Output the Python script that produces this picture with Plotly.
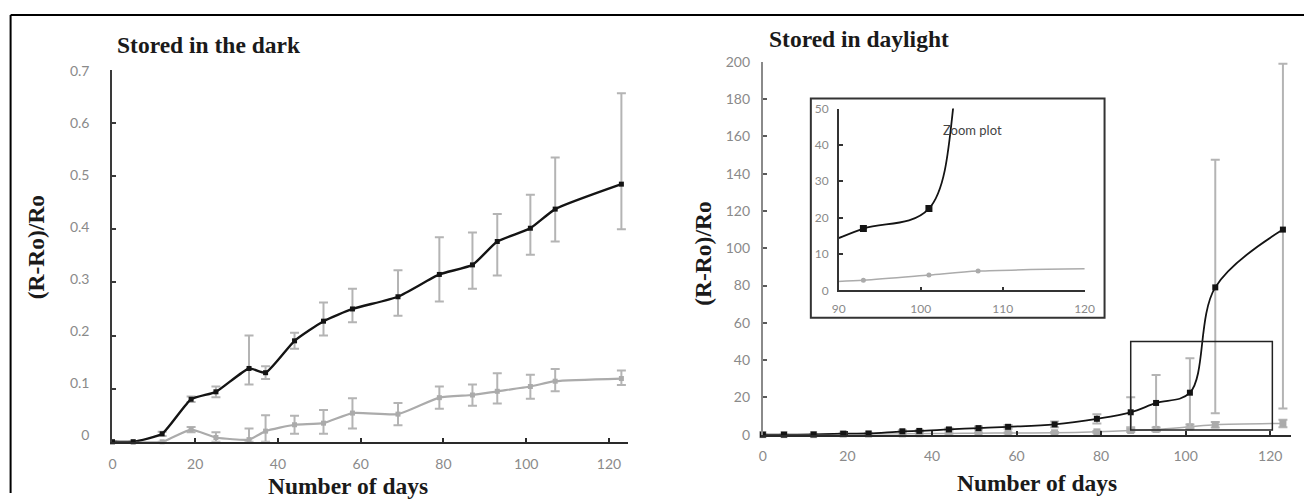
import plotly.graph_objects as go

W, H = 1314, 501

# measured mapping of the page into the photographed picture
SX, AX = 0.988, 6.4
SY, AY = 0.951, 9.0

# ---------------- data ----------------
days = [0, 5, 12, 19, 25, 33, 37, 44, 51, 58, 69, 79, 87, 93, 101, 107, 123]

dark_black = [0, 0, 0.015, 0.08, 0.094, 0.138, 0.13, 0.19, 0.227, 0.25, 0.273, 0.315, 0.333, 0.377, 0.402, 0.438, 0.485]
dark_black_err_plus = [0, 0, 0.004, 0.005, 0.01, 0.062, 0.012, 0.015, 0.035, 0.038, 0.05, 0.07, 0.061, 0.052, 0.063, 0.097, 0.171]
dark_black_err_minus = [0, 0, 0.004, 0.005, 0.01, 0.03, 0.012, 0.015, 0.027, 0.025, 0.036, 0.051, 0.045, 0.064, 0.05, 0.061, 0.085]

dark_gray = [0, 0, 0, 0.023, 0.008, 0.004, 0.02, 0.032, 0.035, 0.054, 0.052, 0.083, 0.088, 0.095, 0.104, 0.114, 0.119]
dark_gray_err_plus = [0, 0, 0, 0.005, 0.01, 0.021, 0.03, 0.017, 0.025, 0.028, 0.021, 0.021, 0.02, 0.034, 0.022, 0.023, 0.015]
dark_gray_err_minus = [0, 0, 0, 0.005, 0.008, 0.004, 0.02, 0.017, 0.02, 0.029, 0.021, 0.021, 0.02, 0.023, 0.023, 0.019, 0.012]

light_black = [0, 0, 0.1, 0.5, 0.6, 1.8, 2.0, 2.8, 3.5, 4.2, 5.5, 8.5, 12, 17, 22.5, 79, 110]
light_black_err_plus = [0, 0, 0, 0.2, 0.2, 0.5, 0.5, 0.6, 0.8, 1, 1.5, 2.5, 8, 15, 18.5, 68.5, 89]
light_black_err_minus = [0, 0, 0, 0.2, 0.2, 0.5, 0.5, 0.6, 0.8, 1, 1.5, 2.5, 8, 15, 18.5, 67.5, 96]

light_gray = [0, 0, 0, 0.3, 0.3, 0.4, 0.5, 0.6, 0.8, 0.9, 1.0, 1.5, 2.2, 2.8, 4.2, 5.3, 6.0]
light_gray_err = [0, 0, 0, 0.1, 0.1, 0.1, 0.2, 0.2, 0.3, 0.3, 0.4, 0.5, 0.8, 1.0, 1.2, 1.5, 2.0]

x_ticks = [0, 20, 40, 60, 80, 100, 120]
dark_y_ticks = [0, 0.1, 0.2, 0.3, 0.4, 0.5, 0.6, 0.7]
inset_x_ticks = [90, 100, 110, 120]

# ---------------- helpers (picture pixel -> paper fraction) ----------------
def fx(px):
    return ((px - AX) / SX) / W

def fy(py):
    return 1 - ((py - AY) / SY) / H

# left y axis: 0 at picture y=435, 0.7 at y=69; its labels sit ~7 px above the ticks
DARK_PX_PER_UNIT = (435 - 69) / 0.7
LABEL_RAISE = 7
lab_lo = -LABEL_RAISE / DARK_PX_PER_UNIT
lab_hi = (435 - LABEL_RAISE - 61) / DARK_PX_PER_UNIT

BLACK = "#141414"
GRAY = "#ababab"
ERR = "#b4b4b4"
TICKFONT = dict(family="Lato, Liberation Sans, sans-serif", size=14, color="#8a8a8a")
INSET_TICKFONT = dict(family="Lato, Liberation Sans, sans-serif", size=12, color="#8a8a8a")

fig = go.Figure()

# ---------- left panel: stored in the dark ----------
fig.add_trace(go.Scatter(
    x=days, y=dark_gray, mode="lines+markers", xaxis="x", yaxis="y",
    line=dict(color=GRAY, width=2.2, shape="spline", smoothing=0.5),
    marker=dict(symbol="square", size=5, color=GRAY),
    error_y=dict(type="data", array=dark_gray_err_plus, arrayminus=dark_gray_err_minus,
                 color=ERR, thickness=2, width=4.5),
    cliponaxis=False, showlegend=False))
fig.add_trace(go.Scatter(
    x=days, y=dark_black, mode="lines+markers", xaxis="x", yaxis="y",
    line=dict(color=BLACK, width=2.4, shape="spline", smoothing=0.5),
    marker=dict(symbol="square", size=5, color=BLACK),
    error_y=dict(type="data", array=dark_black_err_plus, arrayminus=dark_black_err_minus,
                 color=ERR, thickness=2, width=4.5),
    cliponaxis=False, showlegend=False))
# invisible anchor so the label-only axis of the left panel is drawn
fig.add_trace(go.Scatter(
    x=days[:1], y=dark_black[:1], mode="markers", xaxis="x", yaxis="y4",
    marker=dict(size=1, opacity=0), hoverinfo="skip", showlegend=False))

# ---------- right panel: stored in daylight ----------
fig.add_trace(go.Scatter(
    x=days, y=light_gray, mode="lines+markers", xaxis="x2", yaxis="y2",
    line=dict(color=GRAY, width=1.5, shape="spline", smoothing=0.8),
    marker=dict(symbol="square", size=7, color=GRAY),
    error_y=dict(type="data", array=light_gray_err, color=ERR, thickness=2, width=4.5),
    cliponaxis=False, showlegend=False))
fig.add_trace(go.Scatter(
    x=days, y=light_black, mode="lines+markers", xaxis="x2", yaxis="y2",
    line=dict(color=BLACK, width=1.8, shape="spline", smoothing=1.0),
    marker=dict(symbol="square", size=6, color=BLACK),
    error_y=dict(type="data", array=light_black_err_plus, arrayminus=light_black_err_minus,
                 color=ERR, thickness=2, width=4.5),
    cliponaxis=False, showlegend=False))

# ---------- inset (zoom plot) ----------
fig.add_trace(go.Scatter(
    x=days, y=light_gray, mode="lines+markers", xaxis="x3", yaxis="y3",
    line=dict(color=GRAY, width=1.5, shape="spline", smoothing=0.8),
    marker=dict(symbol="circle", size=5, color=GRAY),
    showlegend=False))
fig.add_trace(go.Scatter(
    x=days, y=light_black, mode="lines+markers", xaxis="x3", yaxis="y3",
    line=dict(color=BLACK, width=1.8, shape="spline", smoothing=1.0),
    marker=dict(symbol="square", size=7, color=BLACK),
    showlegend=False))

axis_common = dict(showgrid=False, zeroline=False, showline=True, ticks="inside",
                   ticklen=4, tickwidth=1.5, fixedrange=True)

fig.update_layout(
    width=W, height=H,
    margin=dict(l=0, r=0, t=0, b=0),
    paper_bgcolor="white", plot_bgcolor="rgba(0,0,0,0)",
    showlegend=False,
    xaxis=dict(**axis_common, domain=[fx(112), fx(628)], range=[0, 124.6],
               tickvals=x_ticks, linecolor="#2a2a2a", linewidth=2, tickcolor="#2a2a2a",
               tickfont=TICKFONT, ticklabelstandoff=8, anchor="y"),
    yaxis=dict(**axis_common, domain=[fy(435), fy(69)], range=[0, 0.7], tickvals=dark_y_ticks,
               linecolor="#3a3a3a", linewidth=2, tickcolor="#3a3a3a",
               showticklabels=False, anchor="x"),
    yaxis4=dict(domain=[fy(435), fy(61)], range=[lab_lo, lab_hi], tickvals=dark_y_ticks,
                overlaying="y", anchor="x", side="left", showline=False, ticks="",
                showgrid=False, zeroline=False, fixedrange=True,
                tickfont=TICKFONT, ticklabelstandoff=22),
    xaxis2=dict(**axis_common, domain=[fx(763), fx(1292)], range=[0, 125],
                tickvals=x_ticks, linecolor="#2a2a2a", linewidth=2, tickcolor="#2a2a2a",
                tickfont=TICKFONT, ticklabelstandoff=8, anchor="y2"),
    yaxis2=dict(**axis_common, domain=[fy(428), fy(61)], range=[0, 200], dtick=20,
                linecolor="#8a8a8a", linewidth=2, tickcolor="#5a5a5a",
                tickfont=TICKFONT, ticklabelstandoff=8, anchor="x2"),
    xaxis3=dict(**axis_common, domain=[fx(839), fx(1085)], range=[90, 120],
                tickvals=inset_x_ticks, linecolor="#333333", linewidth=1.5, tickcolor="#333333",
                tickfont=INSET_TICKFONT, ticklabelstandoff=6, anchor="y3"),
    yaxis3=dict(**axis_common, domain=[fy(286), fy(107)], range=[0, 50], dtick=10,
                linecolor="#333333", linewidth=1.5, tickcolor="#333333",
                tickfont=INSET_TICKFONT, ticklabelstandoff=6, anchor="x3"),
)

# ---------- shapes ----------
shapes = [
    # outer frame (top and left edges visible)
    dict(type="line", xref="paper", yref="paper", x0=fx(10), x1=1.0, y0=fy(15), y1=fy(15),
         line=dict(color="black", width=2)),
    dict(type="line", xref="paper", yref="paper", x0=fx(10), x1=fx(10), y0=fy(15), y1=0,
         line=dict(color="black", width=2)),
    # inset frame
    dict(type="rect", xref="paper", yref="paper", x0=fx(811), x1=fx(1105), y0=fy(313), y1=fy(97),
         line=dict(color="#333333", width=2), layer="below"),
    # zoom region in the daylight panel
    dict(type="rect", xref="x2", yref="y2", x0=87, x1=120.5, y0=2.5, y1=50,
         line=dict(color="#222222", width=1.5)),
]
fig.update_layout(shapes=shapes)

TITLE_FONT = dict(family="Liberation Serif, Times New Roman, serif", size=23.5, color="#1a1a1a")
annotations = [
    dict(text="<b>Stored in the dark</b>", x=fx(115), y=fy(44), xanchor="left", yanchor="middle",
         xref="paper", yref="paper", showarrow=False, font=TITLE_FONT),
    dict(text="<b>Stored in daylight</b>", x=fx(767), y=fy(39), xanchor="left", yanchor="middle",
         xref="paper", yref="paper", showarrow=False, font=TITLE_FONT),
    dict(text="<b>(R-Ro)/Ro</b>", x=fx(35), y=fy(244), xanchor="center", yanchor="middle",
         xref="paper", yref="paper", showarrow=False, textangle=-90, font=TITLE_FONT),
    dict(text="<b>(R-Ro)/Ro</b>", x=fx(703), y=fy(250), xanchor="center", yanchor="middle",
         xref="paper", yref="paper", showarrow=False, textangle=-90, font=TITLE_FONT),
    dict(text="<b>Number of days</b>", x=fx(348), y=fy(479), xanchor="center", yanchor="middle",
         xref="paper", yref="paper", showarrow=False, font=TITLE_FONT),
    dict(text="<b>Number of days</b>", x=fx(1037), y=fy(476), xanchor="center", yanchor="middle",
         xref="paper", yref="paper", showarrow=False, font=TITLE_FONT),
    dict(text="Zoom plot", x=fx(973), y=fy(128), xanchor="center", yanchor="middle",
         xref="paper", yref="paper", showarrow=False,
         font=dict(family="Lato, Liberation Sans, sans-serif", size=13, color="#444444")),
]
fig.update_layout(annotations=annotations)

fig.write_html(
    "out.html",
    config={"displayModeBar": False},
    post_script="document.body.style.margin='0';document.body.style.overflow='hidden';",
)
